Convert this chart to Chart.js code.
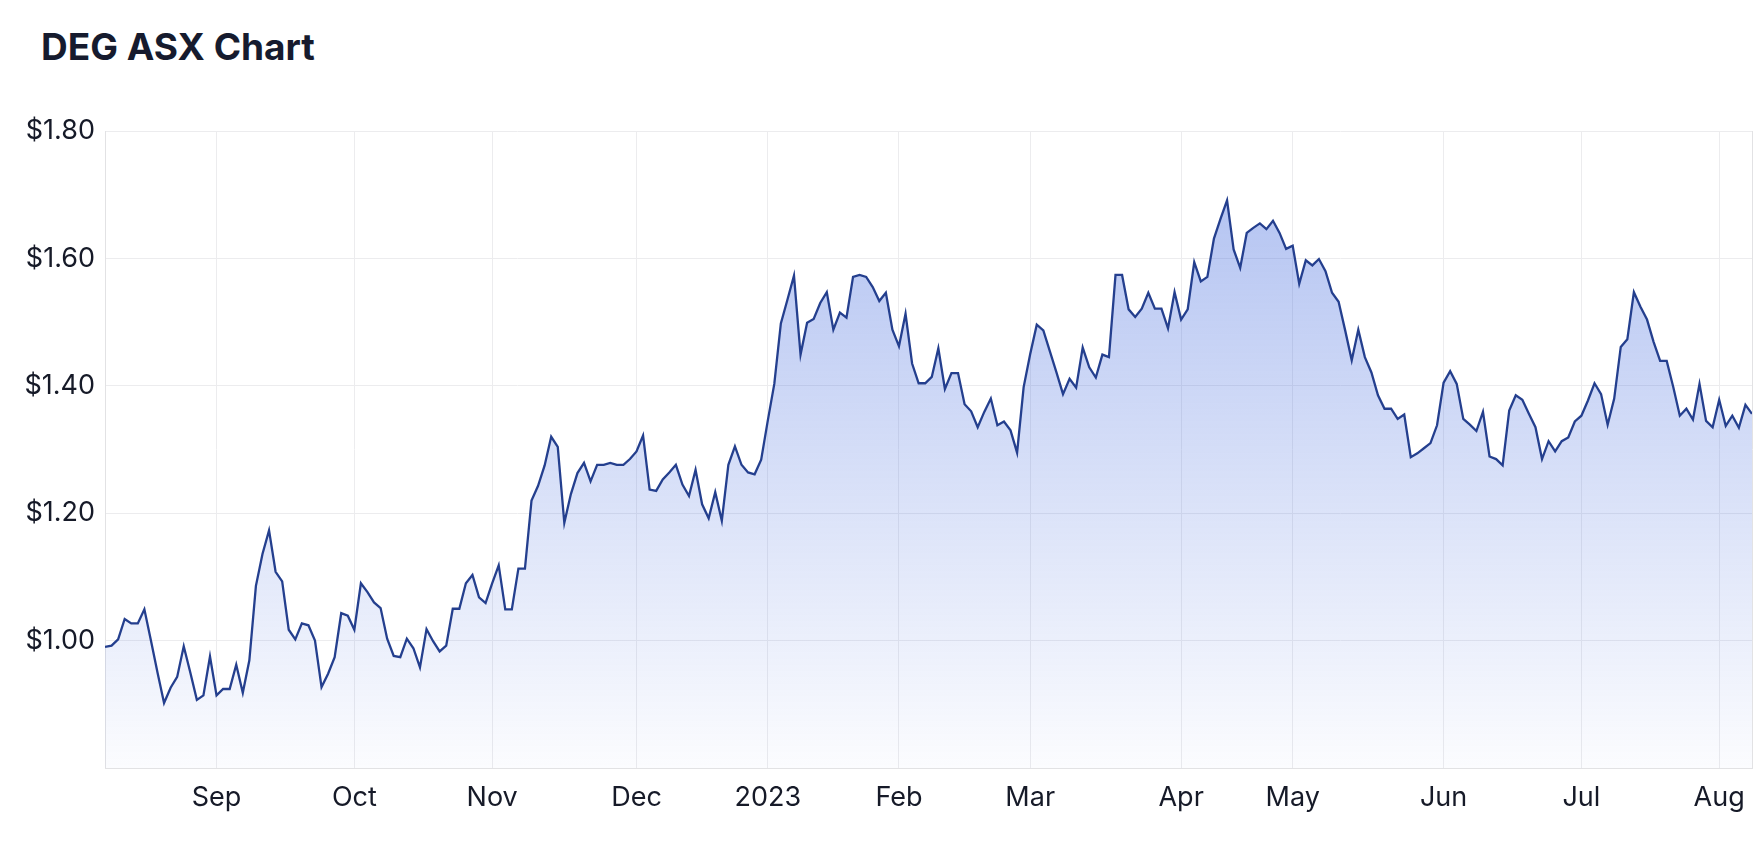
<!DOCTYPE html>
<html>
<head>
<meta charset="utf-8">
<title>DEG ASX Chart</title>
<script src="https://cdn.jsdelivr.net/npm/chart.js@4.4.0/dist/chart.umd.min.js"></script>
<style>
    html, body {
        margin: 0;
        padding: 0;
        background: #ffffff;
        overflow: hidden;
    }
    #title {
        position: absolute;
        left: 41px;
        top: 28px;
        margin: 0;
        font-family: Inter, 'Noto Sans', sans-serif;
        font-weight: 700;
        font-size: 37px;
        line-height: 1;
        color: #161b2e;
    }
    #chart-box {
        position: absolute;
        left: 0;
        top: 0;
        width: 1764px;
        height: 866px;
    }
</style>
</head>
<body>
<h2 id="title">DEG ASX Chart</h2>
<div id="chart-box"><canvas id="price-chart"></canvas></div>
<script>
// Daily closing prices (one per trading day, Aug 2022 -> Aug 2023)
const prices = [
    0.990, 0.992, 1.002, 1.034, 1.027, 1.027, 1.049, 1.000, 0.950, 0.902,
    0.926, 0.943, 0.991, 0.950, 0.907, 0.914, 0.975, 0.914, 0.924, 0.924,
    0.962, 0.918, 0.969, 1.086, 1.136, 1.173, 1.108, 1.093, 1.017, 1.002,
    1.027, 1.024, 1.000, 0.927, 0.948, 0.974, 1.043, 1.039, 1.017, 1.090,
    1.076, 1.060, 1.051, 1.003, 0.976, 0.974, 1.003, 0.988, 0.958, 1.018,
    0.999, 0.983, 0.992, 1.050, 1.050, 1.090, 1.103, 1.068, 1.059, 1.090,
    1.118, 1.049, 1.049, 1.113, 1.113, 1.220, 1.243, 1.275, 1.320, 1.304,
    1.185, 1.230, 1.263, 1.279, 1.250, 1.276, 1.276, 1.279, 1.276, 1.276,
    1.285, 1.297, 1.322, 1.237, 1.235, 1.253, 1.264, 1.276, 1.245, 1.227,
    1.268, 1.214, 1.192, 1.233, 1.188, 1.276, 1.305, 1.276, 1.264, 1.261,
    1.284, 1.345, 1.403, 1.498, 1.535, 1.573, 1.449, 1.499, 1.505, 1.530,
    1.547, 1.488, 1.515, 1.507, 1.571, 1.574, 1.571, 1.555, 1.533, 1.546,
    1.488, 1.462, 1.513, 1.435, 1.404, 1.404, 1.414, 1.459, 1.395, 1.420,
    1.420, 1.371, 1.360, 1.335, 1.359, 1.380, 1.338, 1.344, 1.330, 1.295,
    1.398, 1.450, 1.496, 1.487, 1.454, 1.421, 1.387, 1.411, 1.397, 1.460,
    1.429, 1.413, 1.449, 1.445, 1.574, 1.574, 1.520, 1.508, 1.521, 1.546,
    1.521, 1.521, 1.490, 1.547, 1.504, 1.520, 1.594, 1.564, 1.571, 1.631,
    1.662, 1.691, 1.614, 1.585, 1.640, 1.648, 1.655, 1.646, 1.659, 1.640,
    1.615, 1.620, 1.560, 1.597, 1.589, 1.599, 1.580, 1.546, 1.532, 1.487,
    1.440, 1.488, 1.445, 1.421, 1.385, 1.364, 1.364, 1.348, 1.355, 1.288,
    1.294, 1.302, 1.310, 1.338, 1.405, 1.423, 1.403, 1.348, 1.339, 1.329,
    1.359, 1.289, 1.285, 1.275, 1.361, 1.385, 1.378, 1.356, 1.335, 1.285,
    1.313, 1.297, 1.313, 1.319, 1.344, 1.353, 1.377, 1.404, 1.387, 1.339,
    1.380, 1.461, 1.473, 1.547, 1.524, 1.504, 1.469, 1.439, 1.439, 1.398,
    1.353, 1.364, 1.347, 1.403, 1.345, 1.335, 1.378, 1.337, 1.353, 1.334,
    1.370, 1.356
];

// First trading day of each month (index into prices) and its label
const monthTickIndex = [17, 38, 59, 81, 101, 121, 141, 164, 181, 204, 225, 246];
const monthTickLabels = ['Sep', 'Oct', 'Nov', 'Dec', '2023', 'Feb', 'Mar', 'Apr', 'May', 'Jun', 'Jul', 'Aug'];

// Price axis
const priceTicks = [1.00, 1.20, 1.40, 1.60, 1.80];
const priceMin = 0.80;
const priceMax = 1.80;

const gridColor = '#ececee';
const borderColor = '#e2e2e4';
const textColor = '#161a28';
const lineColor = '#243f8e';

// Draw the right hand frame line of the plot
const rightFrame = {
    id: 'rightFrame',
    afterDraw(chart) {
        const { ctx, chartArea } = chart;
        ctx.save();
        ctx.strokeStyle = borderColor;
        ctx.lineWidth = 1;
        ctx.beginPath();
        ctx.moveTo(chartArea.right + 0.5, chartArea.top);
        ctx.lineTo(chartArea.right + 0.5, chartArea.bottom);
        ctx.stroke();
        ctx.restore();
    }
};

function areaGradient(context) {
    const { ctx, chartArea } = context.chart;
    if (!chartArea) {
        return 'rgba(59, 100, 220, 0.2)';
    }
    const g = ctx.createLinearGradient(0, chartArea.top, 0, chartArea.bottom);
    g.addColorStop(0, 'rgba(59, 100, 220, 0.42)');
    g.addColorStop(1, 'rgba(59, 100, 220, 0.02)');
    return g;
}

function createPriceChart() {
    const canvas = document.getElementById('price-chart');
    const tickFont = { family: "Inter, 'Noto Sans', sans-serif", size: 27 };

    const config = {
        type: 'line',
        data: {
            datasets: [{
                label: 'DEG',
                data: prices.map((p, i) => ({ x: i, y: p })),
                borderColor: lineColor,
                borderWidth: 2.3,
                backgroundColor: areaGradient,
                fill: 'start',
                pointRadius: 0,
                tension: 0
            }]
        },
        options: {
            responsive: true,
            maintainAspectRatio: false,
            animation: false,
            layout: {
                padding: { top: 131, right: 12, left: 0, bottom: 0 }
            },
            plugins: {
                legend: { display: false },
                tooltip: { enabled: false }
            },
            scales: {
                x: {
                    type: 'linear',
                    min: 0,
                    max: prices.length - 1,
                    afterBuildTicks: axis => {
                        axis.ticks = monthTickIndex.map(v => ({ value: v }));
                    },
                    afterFit: axis => { axis.height = 98; },
                    grid: { color: gridColor, drawTicks: false },
                    border: { color: borderColor },
                    ticks: {
                        autoSkip: false,
                        maxRotation: 0,
                        padding: 14,
                        color: textColor,
                        font: tickFont,
                        callback: value => {
                            const k = monthTickIndex.indexOf(value);
                            return k >= 0 ? monthTickLabels[k] : '';
                        }
                    }
                },
                y: {
                    min: priceMin,
                    max: priceMax,
                    afterBuildTicks: axis => {
                        axis.ticks = priceTicks.map(v => ({ value: v }));
                    },
                    afterFit: axis => { axis.width = 105; },
                    grid: { color: gridColor, drawTicks: false },
                    border: { color: borderColor },
                    ticks: {
                        padding: 10,
                        color: textColor,
                        font: tickFont,
                        callback: value => '$' + Number(value).toFixed(2)
                    }
                }
            }
        },
        plugins: [rightFrame]
    };

    try {
        new Chart(canvas, config);
    } catch (error) {
        console.error('Error creating price chart:', error);
    }
}

createPriceChart();
</script>
</body>
</html>
